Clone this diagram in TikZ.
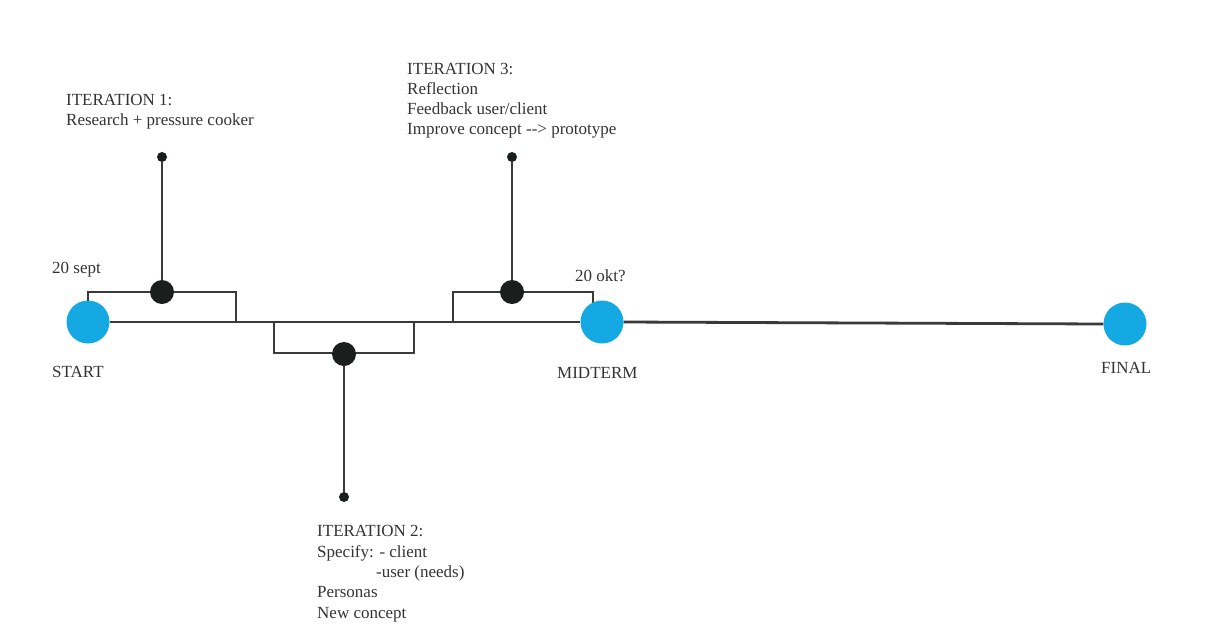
\documentclass[tikz,border=0pt]{standalone}
\usepackage{fontspec}
\setmainfont{Liberation Serif}
\begin{document}
\begin{tikzpicture}[x=1pt,y=-1pt,
  milestone/.style={circle,fill=msblue,minimum size=43pt,inner sep=0pt},
  bigdot/.style={circle,fill=dotblack,minimum size=24pt,inner sep=0pt},
  tipdot/.style={circle,fill=dotblack,minimum size=10pt,inner sep=0pt},
  lbl/.style={anchor=base west,inner sep=0pt,text=txtgray,font=\fontsize{17}{20}\selectfont},
  mainline/.style={draw=linegray,line width=2.8pt},
  stem/.style={draw=linegray,line width=2.4pt},
  bracket/.style={draw=linegray,line width=1.5pt}]
\definecolor{msblue}{HTML}{14A9E3}
\definecolor{dotblack}{HTML}{1A1F1E}
\definecolor{linegray}{HTML}{3A3A3A}
\definecolor{txtgray}{HTML}{333333}
\useasboundingbox (0,0) rectangle (1207,635);
% brackets
\coordinate (b1a) at (88,292);
\coordinate (b1b) at (236,292);
\coordinate (b1c) at (236,322);
\coordinate (b2a) at (274,322);
\coordinate (b2b) at (274,353);
\coordinate (b2c) at (414,353);
\coordinate (b2d) at (414,322);
\coordinate (b3a) at (453,322);
\coordinate (b3b) at (453,292);
\coordinate (b3c) at (593,292);
\coordinate (b3d) at (593,305);
\coordinate (b1s) at (88,305);
\draw[bracket] (b1s) -- (b1a) -- (b1b) -- (b1c);
\draw[bracket] (b2a) -- (b2b) -- (b2c) -- (b2d);
\draw[bracket] (b3a) -- (b3b) -- (b3c) -- (b3d);
% milestones
\node[milestone] (start) at (88,322) {};
\node[milestone] (mid) at (602,322) {};
\node[milestone] (final) at (1125,324) {};
\draw[mainline] (start.east) -- (mid.west);
\draw[mainline] (mid.east) -- (final.west);
% iteration dots
\node[tipdot] (t1) at (162,157) {};
\node[bigdot] (d1) at (162,292) {};
\draw[stem] (t1) -- (d1);
\node[tipdot] (t2) at (344,497) {};
\node[bigdot] (d2) at (344,354) {};
\draw[stem] (t2) -- (d2);
\node[tipdot] (t3) at (512,157) {};
\node[bigdot] (d3) at (512,292) {};
\draw[stem] (t3) -- (d3);
% labels
\node[lbl] (l1a) at (66,105) {ITERATION 1:};
\node[lbl] (l1b) at (66,125) {Research + pressure cooker};
\node[lbl] (l3a) at (407,74) {ITERATION 3:};
\node[lbl] (l3b) at (407,94) {Reflection};
\node[lbl] (l3c) at (407,114) {Feedback user/client};
\node[lbl] (l3d) at (407,134) {Improve concept -{}-> prototype};
\node[lbl] (l2a) at (317,536) {ITERATION 2:};
\node[lbl] (l2b) at (317,557) {Specify: - client};
\node[lbl] (l2c) at (376,577) {-user (needs)};
\node[lbl] (l2d) at (317,597) {Personas};
\node[lbl] (l2e) at (317,618) {New concept};
\node[lbl] (s1) at (52,273) {20 sept};
\node[lbl] (s2) at (52,377) {START};
\node[lbl] (s3) at (575,281) {20 okt?};
\node[lbl] (s4) at (557,378) {MIDTERM};
\node[lbl] (s5) at (1101,373) {FINAL};
\end{tikzpicture}
\end{document}
